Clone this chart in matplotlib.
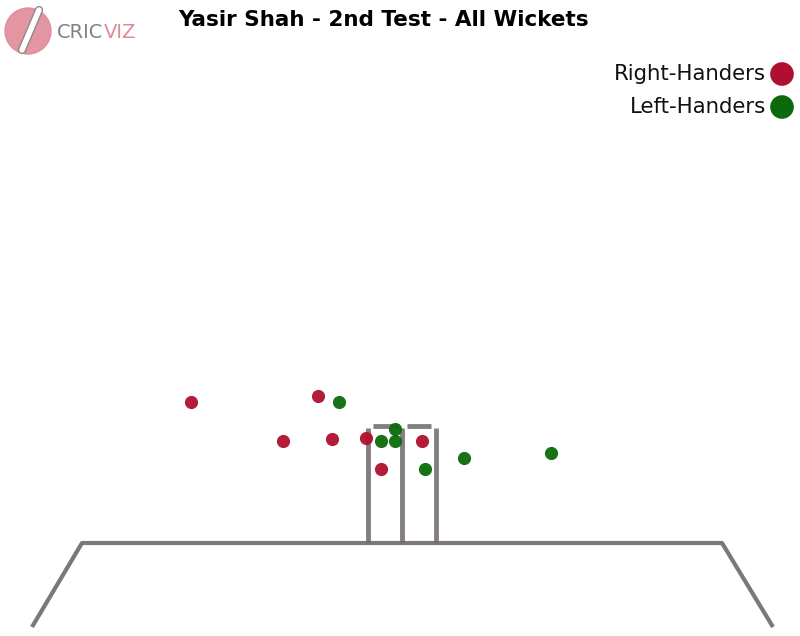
import numpy as np
import matplotlib.pyplot as plt
from matplotlib.patches import Circle

# pitch-map positions of each wicket (image units, y grows downward)
right_x = [191, 318, 283, 332, 366, 381, 422]
right_y = [402, 396, 441, 439, 438, 469, 441]
left_x = [339, 395, 381, 395, 425, 464, 551]
left_y = [402, 429, 441, 441, 469, 458, 453]

title = "Yasir Shah - 2nd Test - All Wickets"
legend_labels = ["Right-Handers", "Left-Handers"]

red = "#b0102f"
green = "#0b6b0b"
grey = "#6e686c"
pink = "#e08a98"

fig = plt.figure(figsize=(8, 6.36), dpi=100)
ax = fig.add_axes([0, 0, 1, 1])
ax.set_xlim(0, 800)
ax.set_ylim(636, 0)
ax.axis("off")

# ground and crease
ax.plot([32, 82, 722, 773], [627, 543, 543, 627], color=grey, lw=3, alpha=0.9,
        solid_capstyle="butt")
# stumps
for sx in [368, 402, 436]:
    ax.plot([sx, sx], [428, 543], color=grey, lw=3.5, alpha=0.85, solid_capstyle="butt")
# bails
ax.plot([373, 399], [426, 426], color=grey, lw=3.5, alpha=0.85, solid_capstyle="butt")
ax.plot([407, 431], [426, 426], color=grey, lw=3.5, alpha=0.85, solid_capstyle="butt")

ax.scatter(right_x, right_y, s=90, color=red, alpha=0.95, zorder=5, linewidths=0)
ax.scatter(left_x, left_y, s=90, color=green, alpha=0.95, zorder=5, linewidths=0)

# legend
ax.scatter([782, 782], [74, 107], s=290, color=[red, green], zorder=5, linewidths=0)
for lab, yy in zip(legend_labels, [74, 107]):
    ax.text(766, yy, lab, ha="right", va="center", fontsize=15.3, color="#111111")

# title
ax.text(384, 20, title, ha="center", va="center", fontsize=15.5, fontweight="bold")

# logo
ax.add_patch(Circle((28, 31), 23, color=pink, alpha=0.9))
ax.plot([22, 39], [50, 10], color="#8a8a8a", lw=6, solid_capstyle="round")
ax.plot([22, 39], [50, 10], color="white", lw=4, solid_capstyle="round")
t1 = ax.text(57, 33, "CRIC", ha="left", va="center", fontsize=14, color="#808080",
             family=["Liberation Sans Narrow", "DejaVu Sans"])
ax.annotate("VIZ", xy=(1, 0.5), xycoords=t1, ha="left", va="center", fontsize=14,
            color=pink, family=["Liberation Sans Narrow", "DejaVu Sans"])

fig.savefig("out.png", dpi=100)
